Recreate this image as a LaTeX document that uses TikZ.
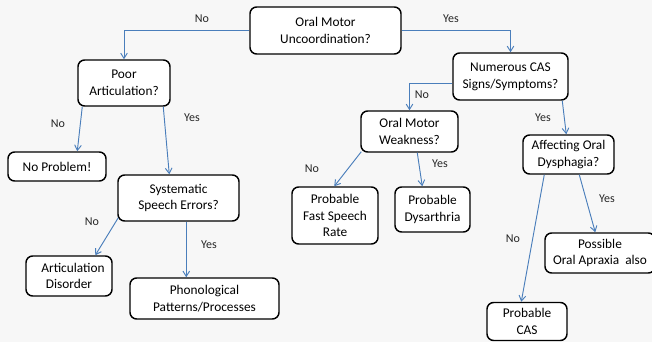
\documentclass[tikz,border=0pt]{standalone}
\usepackage{fontspec}
\setmainfont{Carlito}
\usetikzlibrary{arrows.meta,calc}
\definecolor{arrowblue}{HTML}{4A7EBB}
\definecolor{bgcol}{HTML}{F7F7F7}
\tikzset{
  box/.style={draw=black, line width=1.1pt, rounded corners=5pt, fill=white,
    align=center, inner sep=0pt, font=\fontsize{10}{12.5}\selectfont},
  arr/.style={draw=arrowblue, line width=0.7pt, -{Straight Barb[length=4pt,width=5pt]}},
  lbl/.style={font=\fontsize{9}{11}\selectfont, text=black!85, inner sep=0pt}
}
\begin{document}
\begin{tikzpicture}[x=0.75pt,y=-0.75pt]
\fill[bgcol] (0,0) rectangle (652,342);
\useasboundingbox (0,0) rectangle (652,342);
% boxes
\node[box, minimum width=113.25pt, minimum height=35.25pt] (om) at (325.5,30.5) {Oral Motor\\Uncoordination?};
\node[box, minimum width=69pt, minimum height=34.5pt] (poor) at (124,83) {Poor\\Articulation?};
\node[box, minimum width=86.25pt, minimum height=35.25pt] (num) at (510.5,76.5) {Numerous CAS\\Signs/Symptoms?};
\node[box, minimum width=72.75pt, minimum height=30.75pt] (omw) at (409.5,131.5) {Oral Motor\\Weakness?};
\node[box, minimum width=68.25pt, minimum height=29.25pt] (aff) at (568.5,154.5) {Affecting Oral\\Dysphagia?};
\node[box, minimum width=73.5pt, minimum height=21.75pt] (nop) at (57,166.5) {No Problem!};
\node[box, minimum width=90.75pt, minimum height=34.5pt] (sys) at (178.5,198) {Systematic\\Speech Errors?};
\node[box, minimum width=64.5pt, minimum height=30pt] (art) at (69,276) {\hspace*{6pt}Articulation\\Disorder};
\node[box, minimum width=111.75pt, minimum height=30.75pt] (pho) at (204.5,298.5) {Phonological\\Patterns/Processes};
\node[box, minimum width=64.5pt, minimum height=42.75pt] (fast) at (335,215.5) {Probable\\Fast Speech\\Rate};
\node[box, minimum width=56.25pt, minimum height=33.75pt] (dys) at (432.5,209.5) {Probable\\Dysarthria};
\node[box, minimum width=60pt, minimum height=28.5pt] (cas) at (527,321.5) {Probable\\CAS};
\node[box, minimum width=82.5pt, minimum height=30pt] (pos) at (600,253) {Possible\\Oral Apraxia\ \ also};
% connectors
\draw[arr] (om.west) -| (poor.north);
\draw[arr] (om.east) -| (num.north);
\draw[arr] ($(num.west)+(0,6.5)$) -| (omw.north);
\draw[arr] ($(poor.south west)+(5,0)$) -- ($(nop.north west)+(70,0)$);
\draw[arr] ($(poor.south west)+(86,0)$) -- ($(sys.north west)+(52,0)$);
\draw[arr] ($(sys.south west)+(1,-4)$) -- ($(art.north west)+(70,0)$);
\draw[arr] ($(sys.south west)+(69,0)$) -- ($(pho.north west)+(57,0)$);
\draw[arr] ($(num.south west)+(110,0)$) -- ($(aff.north west)+(44,0)$);
\draw[arr] ($(omw.south west)+(1,-1)$) -- ($(fast.north west)+(43,0)$);
\draw[arr] ($(omw.south west)+(57,0)$) -- ($(dys.north west)+(28,0)$);
\draw[arr] ($(aff.south west)+(22,0)$) -- ($(cas.north west)+(35,0)$);
\draw[arr] ($(aff.south west)+(57,0)$) -- ($(pos.north west)+(51,0)$);
% labels
\node[lbl] (l1) at (202,19) {No};
\node[lbl] (l2) at (451,19) {Yes};
\node[lbl] (l3) at (58,124) {No};
\node[lbl] (l4) at (192,118) {Yes};
\node[lbl] (l5) at (422,95) {No};
\node[lbl] (l6) at (543,118) {Yes};
\node[lbl] (l7) at (92,222) {No};
\node[lbl] (l8) at (209,245) {Yes};
\node[lbl] (l9) at (312,169) {No};
\node[lbl] (l10) at (440,164) {Yes};
\node[lbl] (l11) at (513,239) {No};
\node[lbl] (l12) at (607,199) {Yes};
\end{tikzpicture}
\end{document}
